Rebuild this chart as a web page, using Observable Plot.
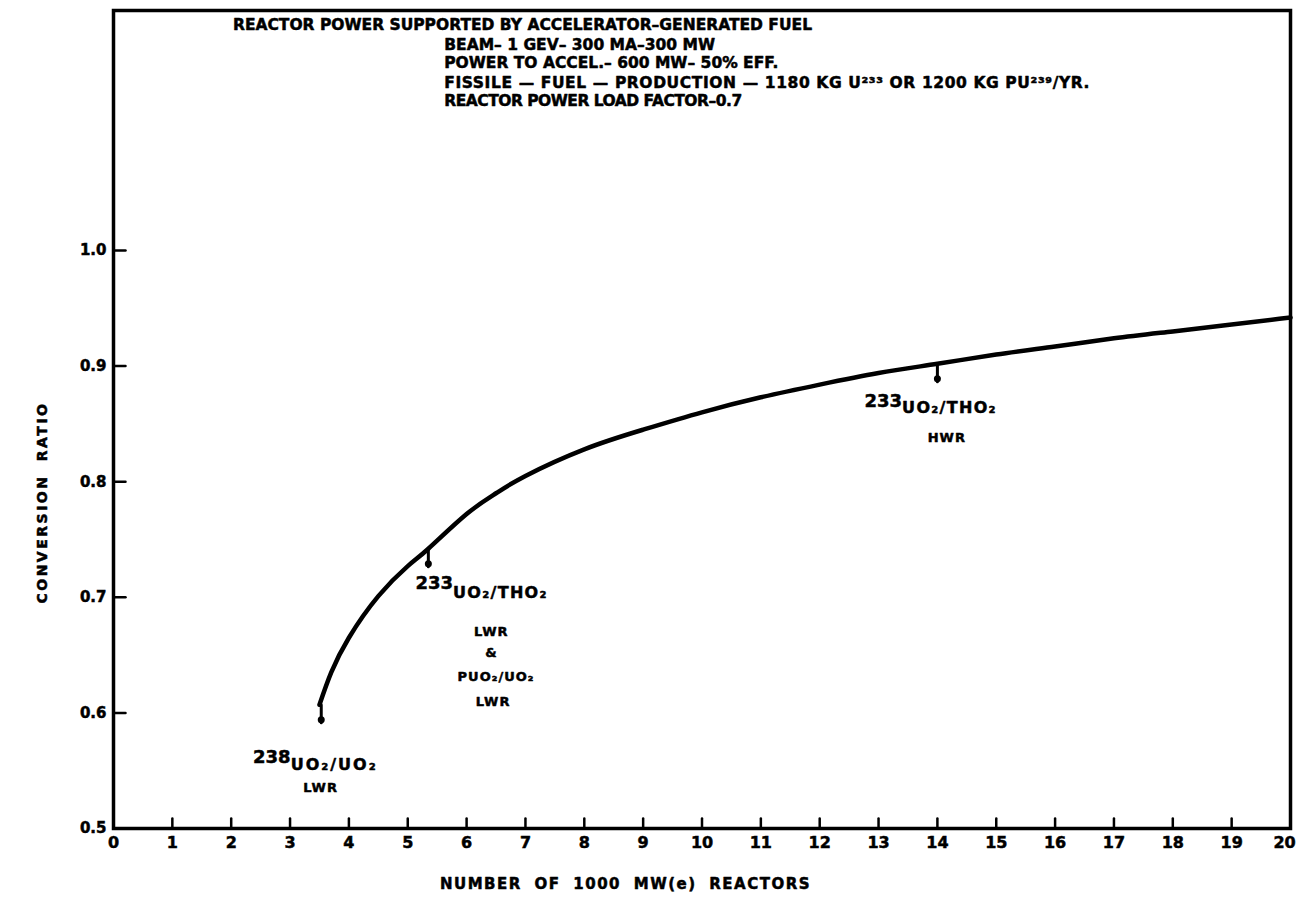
<!DOCTYPE html>
<html><head><meta charset="utf-8">
<script src="https://cdn.jsdelivr.net/npm/d3@7"></script>
<script src="https://cdn.jsdelivr.net/npm/@observablehq/plot@0.6"></script>
<style>
body{margin:0;background:#fff}
svg text{font-family:"DejaVu Sans",sans-serif;font-weight:bold}
</style>
</head><body><div id="chart"></div>
<script>
// ---- data ----
const reactors = [3.5, 3.7, 4.0, 4.5, 5.0, 5.35, 6.0, 6.5, 7, 8, 9, 10, 11, 12, 13, 14, 15, 16, 17, 18, 19, 20];
const conversionRatio = [0.607, 0.635, 0.665, 0.701, 0.727, 0.742, 0.772, 0.79, 0.805, 0.828, 0.845, 0.86, 0.873, 0.884, 0.894, 0.902, 0.91, 0.917, 0.924, 0.93, 0.936, 0.942];
const xTicks = [0,1,2,3,4,5,6,7,8,9,10,11,12,13,14,15,16,17,18,19,20];
const yTicks = [0.5,0.6,0.7,0.8,0.9,1.0];
const yTickLabels = ["0.5","0.6","0.7","0.8","0.9","1.0"];
const markerX = [3.53, 5.35, 14.0];
const markerY = [0.607, 0.742, 0.902];

const titleLines = [
  "REACTOR POWER SUPPORTED BY ACCELERATOR\u2013GENERATED FUEL",
  "BEAM\u2013 1 GEV\u2013 300 MA\u2013300 MW",
  "POWER TO ACCEL.\u2013 600 MW\u2013 50% EFF.",
  "FISSILE \u2014 FUEL \u2014 PRODUCTION \u2014 1180 KG U\u00B2\u00B3\u00B3 OR 1200 KG PU\u00B2\u00B3\u2079/YR.",
  "REACTOR POWER LOAD FACTOR\u20130.7"
];
const titleX = [2.03, 5.62, 5.62, 5.62, 5.62];
const titleY = [1.195, 1.178, 1.162, 1.145, 1.129];

// isotope labels: big number + formula
const isoNum = ["238", "233", "233"];
const isoNumX = [3.01, 5.77, 13.4];
const isoNumY = [0.562, 0.712, 0.870];
const isoFormula = ["UO\u2082/UO\u2082", "UO\u2082/THO\u2082", "UO\u2082/THO\u2082"];
const isoFormulaY = [0.555, 0.704, 0.864];
const subLabels = ["LWR", "LWR", "&", "PUO\u2082/UO\u2082", "LWR", "HWR"];
const subX = [3.52, 6.42, 6.42, 6.5, 6.45, 14.16];
const subY = [0.535, 0.670, 0.652, 0.631, 0.610, 0.838];

const curve = reactors.map((x, i) => ({x, y: conversionRatio[i]}));
const stem = {draw(ctx, l) { ctx.moveTo(0, 0); ctx.lineTo(0, -l); }};
const cond = "DejaVu Sans Condensed, DejaVu Sans, sans-serif";
const heavy = {fill: "black", stroke: "black", strokeWidth: 0.5};

const chart = Plot.plot({
  width: 1298, height: 921,
  marginLeft: 113, marginRight: 8, marginTop: 10, marginBottom: 93,
  x: {domain: [0, 20]},
  y: {domain: [0.5, 1.2076]},
  marks: [
    Plot.axisX({ticks: xTicks.slice(0, -1), tickSize: 0, tickPadding: 8, fontSize: 16, fontFamily: cond, label: null, tickFormat: d => String(d)}),
    Plot.axisX({ticks: xTicks.slice(-1), tickSize: 0, tickPadding: 8, fontSize: 16, fontFamily: cond, label: null, dx: -6, tickFormat: d => String(d)}),
    Plot.axisY({ticks: yTicks, tickSize: 0, tickPadding: 7, fontSize: 15, fontFamily: cond, label: null, tickFormat: d => yTickLabels[yTicks.indexOf(d)]}),
    Plot.vector(xTicks.slice(1, -1), {x: d => d, y: 0.5, length: 10, rotate: 0, anchor: "start", shape: stem, stroke: "black", strokeWidth: 2.5}),
    Plot.vector(yTicks.slice(1), {x: 0, y: d => d, length: 12, rotate: 90, anchor: "start", shape: stem, stroke: "black", strokeWidth: 2.5}),
    Plot.frame({stroke: "black", strokeWidth: 3.5}),
    Plot.line(curve, {x: "x", y: "y", curve: "natural", stroke: "black", strokeWidth: 4.5}),
    Plot.vector(markerX, {x: d => d, y: (d, i) => markerY[i], length: 18, rotate: 180, anchor: "start", shape: stem, stroke: "black", strokeWidth: 3}),
    Plot.dot(markerX, {x: d => d, y: (d, i) => markerY[i], dy: 15, r: 3.5, fill: "black", stroke: null}),
    Plot.text(titleLines, {x: (d, i) => titleX[i], y: (d, i) => titleY[i], text: d => d, textAnchor: "start", fontSize: 15.5, ...heavy}),
    Plot.text(isoNum, {x: (d, i) => isoNumX[i], y: (d, i) => isoNumY[i], text: d => d, textAnchor: "end", fontSize: 18, ...heavy}),
    Plot.text(isoFormula, {x: (d, i) => isoNumX[i], y: (d, i) => isoFormulaY[i], text: d => d, textAnchor: "start", fontSize: 16, ...heavy}),
    Plot.text(subLabels, {x: (d, i) => subX[i], y: (d, i) => subY[i], text: d => d, textAnchor: "middle", fontSize: 13, ...heavy}),
    Plot.text(["CONVERSION RATIO"], {x: -1.21, y: 0.782, text: d => d, rotate: -90, fontSize: 14, ...heavy}),
    Plot.text(["NUMBER OF 1000 MW(e) REACTORS"], {x: 8.7, y: 0.4516, text: d => d, fontSize: 15, ...heavy})
  ]
});
document.getElementById("chart").appendChild(chart);
const svg = d3.select(chart);
const spacing = new Map([
  ...isoFormula.map(t => [t, "1.3px"]),
  ["UO\u2082/UO\u2082", "2px"],
  ...subLabels.map(t => [t, "1px"]),
  ["CONVERSION RATIO", "2.5px"],
  ["NUMBER OF 1000 MW(e) REACTORS", "1.5px"],
  [titleLines[3], "0.6px"],
  [titleLines[4], "-0.5px"]
]);
svg.selectAll("text").each(function() {
  const t = this.textContent;
  if (spacing.has(t)) {
    d3.select(this).attr("letter-spacing", spacing.get(t));
    if (t === "CONVERSION RATIO" || t.startsWith("NUMBER OF")) d3.select(this).attr("word-spacing", "6px");
  }
});
svg.selectAll("g[aria-label='x-axis tick label'] text, g[aria-label='y-axis tick label'] text")
  .attr("stroke", "black").attr("stroke-width", 0.5);
</script>
</body></html>
